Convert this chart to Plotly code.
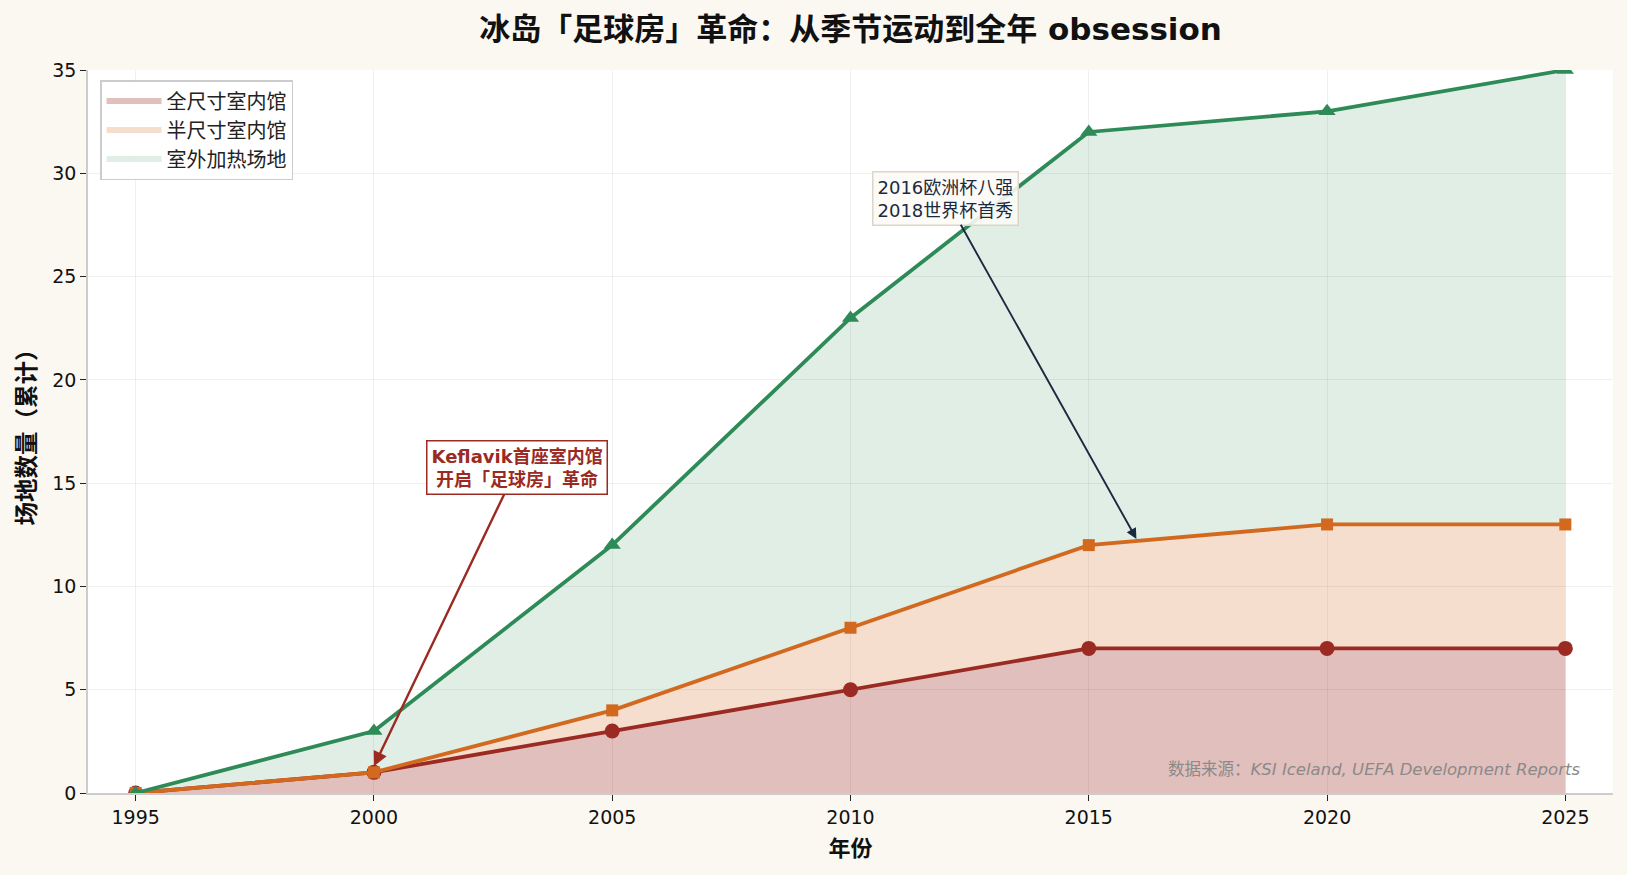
import numpy as np
import plotly.graph_objects as go

years = [1995, 2000, 2005, 2010, 2015, 2020, 2025]
full_indoor = [0, 1, 3, 5, 7, 7, 7]
half_indoor = [0, 0, 1, 3, 5, 6, 6]
outdoor_heated = [0, 2, 8, 15, 20, 20, 22]
series_names = ["全尺寸室内馆", "半尺寸室内馆", "室外加热场地"]
y_ticks = [0, 5, 10, 15, 20, 25, 30, 35]
x_ticks = [1995, 2000, 2005, 2010, 2015, 2020, 2025]

c_red = "#9B2A22"
c_orange = "#D2691E"
c_green = "#2E8B57"
fills = ["rgba(155,42,34,0.30)", "rgba(210,105,30,0.22)", "rgba(46,139,87,0.15)"]
colors = [c_red, c_orange, c_green]
symbols = ["circle", "square", "triangle-up"]
msizes = [15, 12, 15]

layers = [np.array(full_indoor), np.array(half_indoor), np.array(outdoor_heated)]
cum = np.cumsum(np.vstack(layers), axis=0)

fig = go.Figure()
for i in range(3):
    fig.add_trace(go.Scatter(
        x=years, y=cum[i], mode="none",
        fill="tozeroy" if i == 0 else "tonexty",
        fillcolor=fills[i], name=series_names[i], hoverinfo="skip",
    ))
for i in range(3):
    fig.add_trace(go.Scatter(
        x=years, y=cum[i], mode="lines+markers",
        line=dict(color=colors[i], width=3.8),
        marker=dict(symbol=symbols[i], size=msizes[i], color=colors[i]),
        showlegend=False, name=series_names[i],
    ))

font_cjk = "DejaVu Sans, Noto Sans CJK SC"

fig.add_annotation(
    x=2000, y=1.3, xref="x", yref="y",
    ax=2003.0, ay=15.75, axref="x", ayref="y",
    text="<b>Keflavik首座室内馆<br>开启「足球房」革命</b>",
    font=dict(family=font_cjk, size=18, color=c_red),
    showarrow=True, arrowhead=2, arrowsize=1.2, arrowwidth=2.4, arrowcolor=c_red,
    bgcolor="rgba(255,255,255,0.9)", bordercolor=c_red, borderwidth=1.5, borderpad=4,
    align="center",
)
fig.add_annotation(
    x=2016, y=12.3, xref="x", yref="y",
    ax=2012.0, ay=28.8, axref="x", ayref="y",
    text="2016欧洲杯八强<br>2018世界杯首秀",
    font=dict(family=font_cjk, size=18, color="#1B2A41"),
    showarrow=True, arrowhead=2, arrowsize=1.1, arrowwidth=1.9, arrowcolor="#1B2A41",
    bgcolor="rgba(253,251,246,0.9)", bordercolor="#DCD6C8", borderwidth=1.5, borderpad=4,
    align="left",
)
fig.add_annotation(
    x=0.9797, y=0.033, xref="paper", yref="paper",
    text="数据来源：<i>KSI Iceland, UEFA Development Reports</i>",
    showarrow=False, xanchor="right", yanchor="middle",
    font=dict(family=font_cjk, size=16.5, color="#8A8A8A"),
)

fig.update_layout(
    width=1627, height=875,
    margin=dict(l=88, r=14, t=70, b=82),
    paper_bgcolor="#FBF8F1", plot_bgcolor="#FFFFFF",
    title=dict(
        text="<b>冰岛「足球房」革命：从季节运动到全年 obsession</b>",
        x=0.5, xref="paper", y=1 - 29 / 875, yref="container",
        xanchor="center", yanchor="middle",
        font=dict(family=font_cjk, size=31, color="#111111"),
    ),
    legend=dict(
        x=0.0079, y=0.986, xanchor="left", yanchor="top",
        bgcolor="rgba(255,255,255,0.9)", bordercolor="#CCCCCC", borderwidth=1.5,
        font=dict(family=font_cjk, size=20, color="#222222"),
        tracegroupgap=0, traceorder="normal", itemwidth=55,
    ),
    font=dict(family=font_cjk, color="#111111"),
    showlegend=True,
)
fig.update_xaxes(
    range=[1994, 2026], tickvals=x_ticks, ticktext=[str(v) for v in x_ticks],
    showgrid=True, gridcolor="rgba(0,0,0,0.06)", gridwidth=1,
    showline=True, linecolor="#CCCCCC", linewidth=1.5, mirror=False,
    ticks="outside", ticklen=6, tickcolor="#222222", tickwidth=1.3,
    tickfont=dict(size=19, family="DejaVu Sans", color="#111111"),
    title=dict(text="<b>年份</b>", font=dict(size=22, family=font_cjk), standoff=14),
    zeroline=False,
)
fig.update_yaxes(
    range=[0, 35], tickvals=y_ticks,
    showgrid=True, gridcolor="rgba(0,0,0,0.06)", gridwidth=1,
    showline=True, linecolor="#CCCCCC", linewidth=1.5, mirror=False,
    ticks="outside", ticklen=6, tickcolor="#222222", tickwidth=1.3,
    tickfont=dict(size=19, family="DejaVu Sans", color="#111111"),
    title=dict(text="<b>场地数量（累计）</b>", font=dict(size=23.5, family=font_cjk), standoff=10),
    zeroline=False,
)

fig.write_html("out.html")
